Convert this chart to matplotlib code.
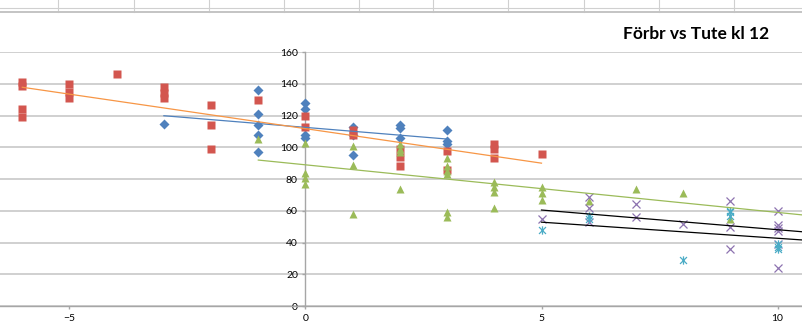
# -*- coding: utf-8 -*-
"""
Förbr vs Tute kl 12 - scatter of five groups with linear trendlines
"""
import numpy as np
import matplotlib
matplotlib.use('Agg')
import matplotlib.pyplot as plt
from matplotlib.lines import Line2D
from matplotlib.path import Path

plt.rcParams['font.family'] = ['Lato', 'DejaVu Sans']

# ---- data ----
blue_x = [-3, -1, -1, -1, -1, -1, 0, 0, 0, 0, 1, 1, 1, 2, 2, 2, 3, 3, 3]
blue_y = [115, 136, 121, 114, 108, 97, 128, 124, 108, 106, 113, 108, 95, 114, 112, 106, 111, 104, 102]

red_x = [-6, -6, -6, -6, -5, -5, -5, -4, -3, -3, -3, -2, -2, -2, -1, 0, 0, 1, 1, 2, 2, 2, 3, 3, 4, 4, 4, 5]
red_y = [141, 139, 124, 119, 140, 135, 131, 146, 138, 134, 131, 127, 114, 99, 130, 120, 113, 111, 108,
         99, 94, 88, 98, 86, 102, 99, 93, 96]

green_x = [-1, 0, 0, 0, 0, 1, 1, 1, 2, 2, 2, 2, 3, 3, 3, 3, 3, 3, 4, 4, 4, 4, 5, 5, 5, 6, 7, 8, 9]
green_y = [105, 103, 84, 81, 77, 101, 89, 58, 102, 99, 97, 74, 93, 88, 85, 83, 59, 56, 78, 75, 72, 62,
           75, 71, 67, 66, 74, 71, 55]

purple_x = [5, 6, 6, 6, 7, 7, 8, 9, 9, 9, 10, 10, 10, 10, 10, 10]
purple_y = [55, 69, 62, 53, 64, 56, 52, 66, 50, 36, 60, 51, 49, 47, 39, 24]

cyan_x = [5, 6, 6, 8, 9, 9, 9, 10, 10, 10]
cyan_y = [48, 57, 55, 29, 60, 59, 57, 39, 37, 36]

# linear trendlines (intercept, slope) and forward forecast in x units
trend_icept = [112.6, 111.8, 89.0, 72.9, 63.0]
trend_slope = [-2.45, -4.35, -3.0, -2.48, -2.03]
trend_fwd = [0, 0, 3, 3, 3]

title = 'Förbr vs Tute kl 12'
xticks = [-5, 0, 5, 10]
yticks = [0, 20, 40, 60, 80, 100, 120, 140, 160]

# ---- styles ----
star = Path([(-1, -1), (1, 1), (-1, 1), (1, -1), (0, -1.2), (0, 1.2)],
            [Path.MOVETO, Path.LINETO, Path.MOVETO, Path.LINETO, Path.MOVETO, Path.LINETO])

series = [
    (blue_x, blue_y, dict(marker='D', ms=5.3, color='#4F81BD', mec='none')),
    (red_x, red_y, dict(marker='s', ms=5.8, color='#D3564F', mec='none')),
    (green_x, green_y, dict(marker='^', ms=6.4, color='#9BBB59', mec='none')),
    (purple_x, purple_y, dict(marker='x', ms=5.6, color='#8D73B0', mew=0.9)),
    (cyan_x, cyan_y, dict(marker=star, ms=6.0, color='#4BACC6', mew=0.9)),
]
trend_colors = ['#4F81BD', '#F79646', '#9BBB59', 'black', 'black']

W, H = 802, 326
fig = plt.figure(figsize=(W / 100, H / 100), dpi=100)

# axis geometry in pixels
px_x0, px_unit = 305.5, 47.2
px_y0, px_y160 = 306, 52.2
ax = fig.add_axes([0, (H - px_y0) / H, 1, (px_y0 - px_y160) / H])
ax.set_xlim(-px_x0 / px_unit, (W - px_x0) / px_unit)
ax.set_ylim(0, 160)

for xs, ys, st in series:
    ax.plot(xs, ys, ls='none', zorder=3, clip_on=False, **st)

for (xs, ys, st), b, m, fwd, c in zip(series, trend_icept, trend_slope, trend_fwd, trend_colors):
    tx = np.array([min(xs), max(xs) + fwd])
    ax.plot(tx, b + m * tx, color=c, lw=0.9, zorder=4)

# axes look
for s in ['top', 'right']:
    ax.spines[s].set_visible(False)
ax.spines['left'].set_position(('data', 0))
ax.spines['left'].set_color('#A6A6A6')
ax.spines['bottom'].set_color('#A6A6A6')
ax.spines['left'].set_linewidth(1.0)
ax.spines['bottom'].set_linewidth(1.0)
ax.set_xticks(xticks)
ax.set_yticks(yticks)
ax.tick_params(axis='both', colors='#A6A6A6', labelcolor='black', labelsize=7.5,
               length=2.5, width=1.0, direction='out')
ax.tick_params(axis='y', pad=3)
ax.tick_params(axis='x', pad=3.5)
ax.yaxis.grid(True, color='#C4C4C4', lw=1.1)
ax.set_axisbelow(True)

ax.set_facecolor('none')
fig.patch.set_facecolor('white')

# spreadsheet cells peeking above the chart frame
for gx in np.arange(58.5, W, 75):
    fig.add_artist(Line2D([gx / W, gx / W], [1, 1 - 12 / H], color='#D0D0D0', lw=0.8))
fig.add_artist(Line2D([0, 1], [1 - 8 / H, 1 - 8 / H], color='#D0D0D0', lw=0.8))
fig.add_artist(Line2D([0, 1], [1 - 12 / H, 1 - 12 / H], color='#C4C4C4', lw=1.4))

fig.text(696.5 / W, 1 - 34 / H, title, ha='center', va='center',
         fontsize=12.5, fontweight='bold', color='black')

plt.savefig('out.png', dpi=100, facecolor='white')
